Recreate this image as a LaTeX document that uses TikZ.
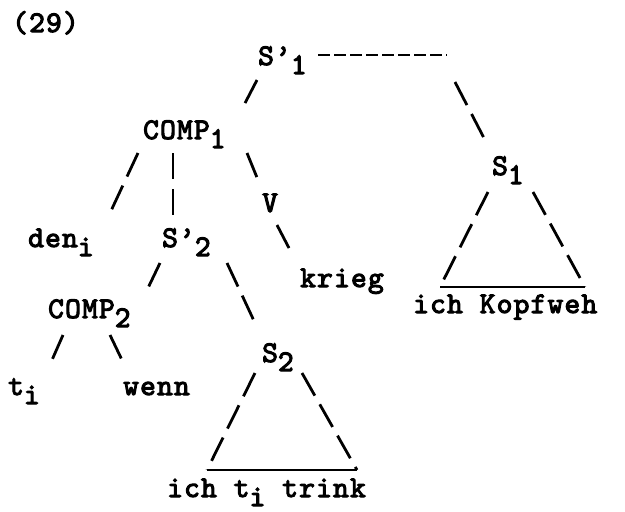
\documentclass[tikz,border=0pt]{standalone}
\usepackage{fontspec}
\usepackage{tikz}
\usetikzlibrary{calc}
\newfontfamily\typefont{lmmono10-regular}[Extension=.otf, LetterSpace=4, FakeBold=3.5]
\newcommand*{\lowsub}[1]{\raisebox{-9pt}{#1}}

\begin{document}
\begin{tikzpicture}[x=1pt, y=-1pt,
  every node/.append style={font=\typefont\fontsize{30}{30}\selectfont,
    inner sep=0pt, anchor=base west},
  branch/.style={line width=2.8pt, dash pattern=on 26pt off 10pt},
  hyphens/.style={line width=2.2pt, dash pattern=on 12pt off 4pt},
  roof/.style={line width=2.4pt}]

  \useasboundingbox (0,0) rectangle (625,512);

  % NODES
  \node (num) at (12,32) {(29)};
  \node (s1p) at (258,65) {S’\lowsub{1}};
  \coordinate (s1end) at (447,55);
  \node (comp1) at (143,139) {COMP\lowsub{1}};
  \node (s1) at (492,175) {S\lowsub{1}};
  \node (v) at (262,212) {V};
  \node (den) at (28,247) {den\lowsub{i}};
  \node (s2p) at (162,247) {S’\lowsub{2}};
  \node (krieg) at (300,287) {krieg};
  \node (kopf) at (413,313) {ich Kopfweh};
  \node (comp2) at (48,318) {COMP\lowsub{2}};
  \node (s2) at (262,362) {S\lowsub{2}};
  \node (t) at (8,395) {t\lowsub{i}};
  \node (wenn) at (123,395) {wenn};
  \node (trink) at (167,497) {ich t\lowsub{i} trink};

  % S'1
  \draw[branch] ($(s1p.base west)+(-1,15)$) -- ($(comp1.base west)+(100,-32)$);
  \draw[hyphens] ($(s1p.base west)+(60,-10)$) -- (s1end);
  \draw[branch] ($(s1end)+(8,27)$) -- ($(s1.base west)+(-7,-35)$);

  % COMP1
  \draw[branch] ($(comp1.base west)+(-5,14)$) -- ($(den.base west)+(82,-34)$);
  \draw[branch] ($(comp1.base west)+(30,14)$) -- ($(s2p.base west)+(11,-30)$);
  \draw[branch] ($(comp1.base west)+(104,14)$) -- ($(v.base west)+(-4,-32)$);
  \draw[branch] ($(v.base west)+(15,13)$) -- ($(krieg.base west)+(-10,-37)$);

  % S1
  \draw[branch] ($(s1.base west)+(-4,17)$) -- ($(kopf.base west)+(27,-26)$);
  \draw[branch] ($(s1.base west)+(41,17)$) -- ($(kopf.base west)+(172,-26)$);
  \draw[roof] ($(kopf.base west)+(27,-26)$) -- ($(kopf.base west)+(172,-26)$);

  % S'2
  \draw[branch] ($(s2p.base west)+(-2,16)$) -- ($(comp2.base west)+(100,-30)$);
  \draw[branch] ($(s2p.base west)+(65,16)$) -- ($(s2.base west)+(-7,-39)$);

  % COMP2
  \draw[branch] ($(comp2.base west)+(15,17)$) -- ($(t.base west)+(44,-35)$);
  \draw[branch] ($(comp2.base west)+(62,17)$) -- ($(wenn.base west)+(-1,-35)$);

  % S2
  \draw[branch] ($(s2.base west)+(-7,11)$) -- ($(trink.base west)+(40,-27)$);
  \draw[branch] ($(s2.base west)+(40,11)$) -- ($(trink.base west)+(190,-27)$);
  \draw[roof] ($(trink.base west)+(40,-27)$) -- ($(trink.base west)+(190,-27)$);

\end{tikzpicture}
\end{document}
